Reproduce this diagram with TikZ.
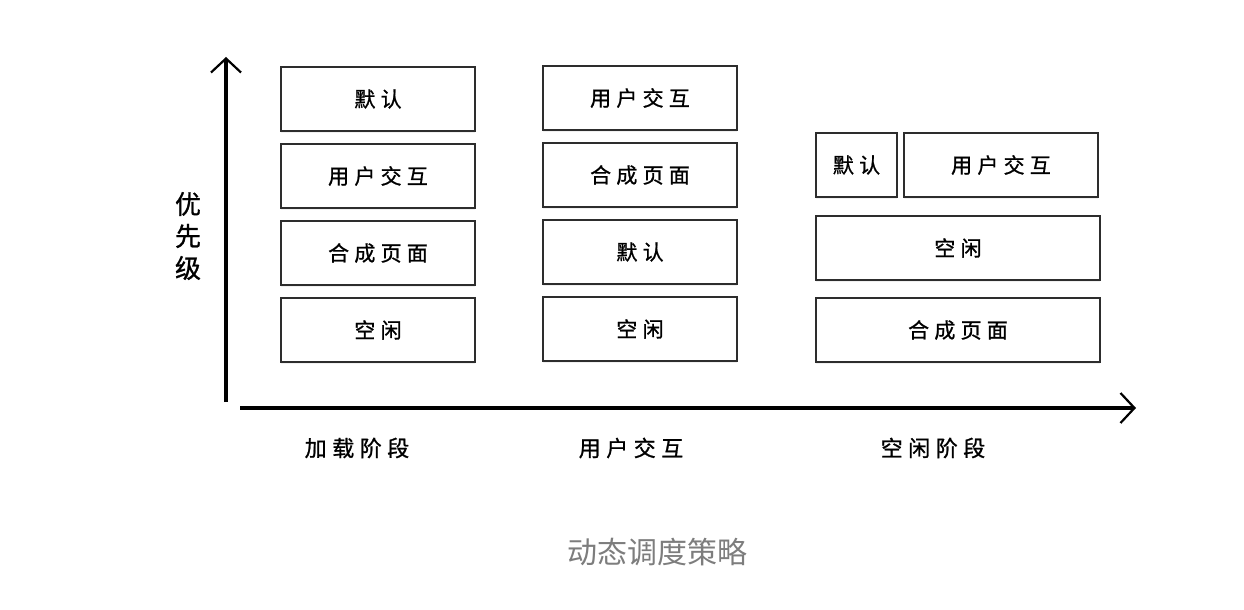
\documentclass[tikz,border=0pt]{standalone}
\usepackage{fontspec}
\setmainfont{Noto Sans CJK SC}
\newfontfamily\cjkspaced[LetterSpace=25, FakeBold=1]{Noto Sans CJK SC}
\newfontfamily\cjkhand[FakeBold=1]{Noto Sans CJK SC}
\usetikzlibrary{arrows.meta, positioning, shadows}
\definecolor{boxLine}{RGB}{45, 45, 45}
\definecolor{captionGray}{RGB}{125, 125, 125}
\tikzset{
    task/.style={draw=boxLine, line width=1pt, fill=white, minimum width=97pt, minimum height=32pt, inner sep=0pt,
        font=\cjkspaced\fontsize{10.5}{12}\selectfont,
        drop shadow={opacity=0.12, shadow xshift=0pt, shadow yshift=-0.8pt}},
    axis/.style={line width=2.2pt, draw=black, -{Straight Barb[length=7pt, width=15pt, line width=1.1pt]}},
    stage/.style={font=\cjkspaced\fontsize{11}{13}\selectfont}
}

\begin{document}
\begin{tikzpicture}[x=0.5pt, y=-0.5pt]
    \useasboundingbox (0,0) rectangle (1244,610);

    % --- AXES ---
    \coordinate (yStart) at (226,402);
    \coordinate (yEnd) at (226,57);
    \coordinate (xStart) at (240,408);
    \coordinate (xEnd) at (1136,408);
    \draw[axis] (yStart) -- (yEnd);
    \draw[axis] (xStart) -- (xEnd);
    \node[font=\cjkhand\fontsize{13}{16}\selectfont, align=center] (prio) at (188,236) {优\\先\\级};

    % --- LOADING STAGE ---
    \node[task] (loadDefault) at (378,99) {默认};
    \node[task, below=5.5pt of loadDefault] (loadUser) {用户交互};
    \node[task, below=5.5pt of loadUser] (loadCompose) {合成页面};
    \node[task, below=5.5pt of loadCompose] (loadIdle) {空闲};

    % --- USER INTERACTION STAGE ---
    \node[task] (userUser) at (640,98) {用户交互};
    \node[task, below=5.5pt of userUser] (userCompose) {合成页面};
    \node[task, below=5.5pt of userCompose] (userDefault) {默认};
    \node[task, below=5.5pt of userDefault] (userIdle) {空闲};

    % --- IDLE STAGE ---
    \node[task, minimum width=40.5pt] (idleDefault) at (856.5,165) {默认};
    \node[task, right=2.5pt of idleDefault] (idleUser) {用户交互};
    \node[task, minimum width=142pt, below=8.5pt of idleDefault.south west, anchor=north west] (idleIdle) {空闲};
    \node[task, minimum width=142pt, below=8pt of idleIdle] (idleCompose) {合成页面};

    % --- STAGE LABELS ---
    \node[stage] (stageLoad) at (357,448) {加载阶段};
    \node[stage] (stageUser) at (631,448) {用户交互};
    \node[stage] (stageIdle) at (933,448) {空闲阶段};

    \node[font=\fontsize{15}{18}\selectfont, text=captionGray] (caption) at (657,552) {动态调度策略};

\end{tikzpicture}
\end{document}
